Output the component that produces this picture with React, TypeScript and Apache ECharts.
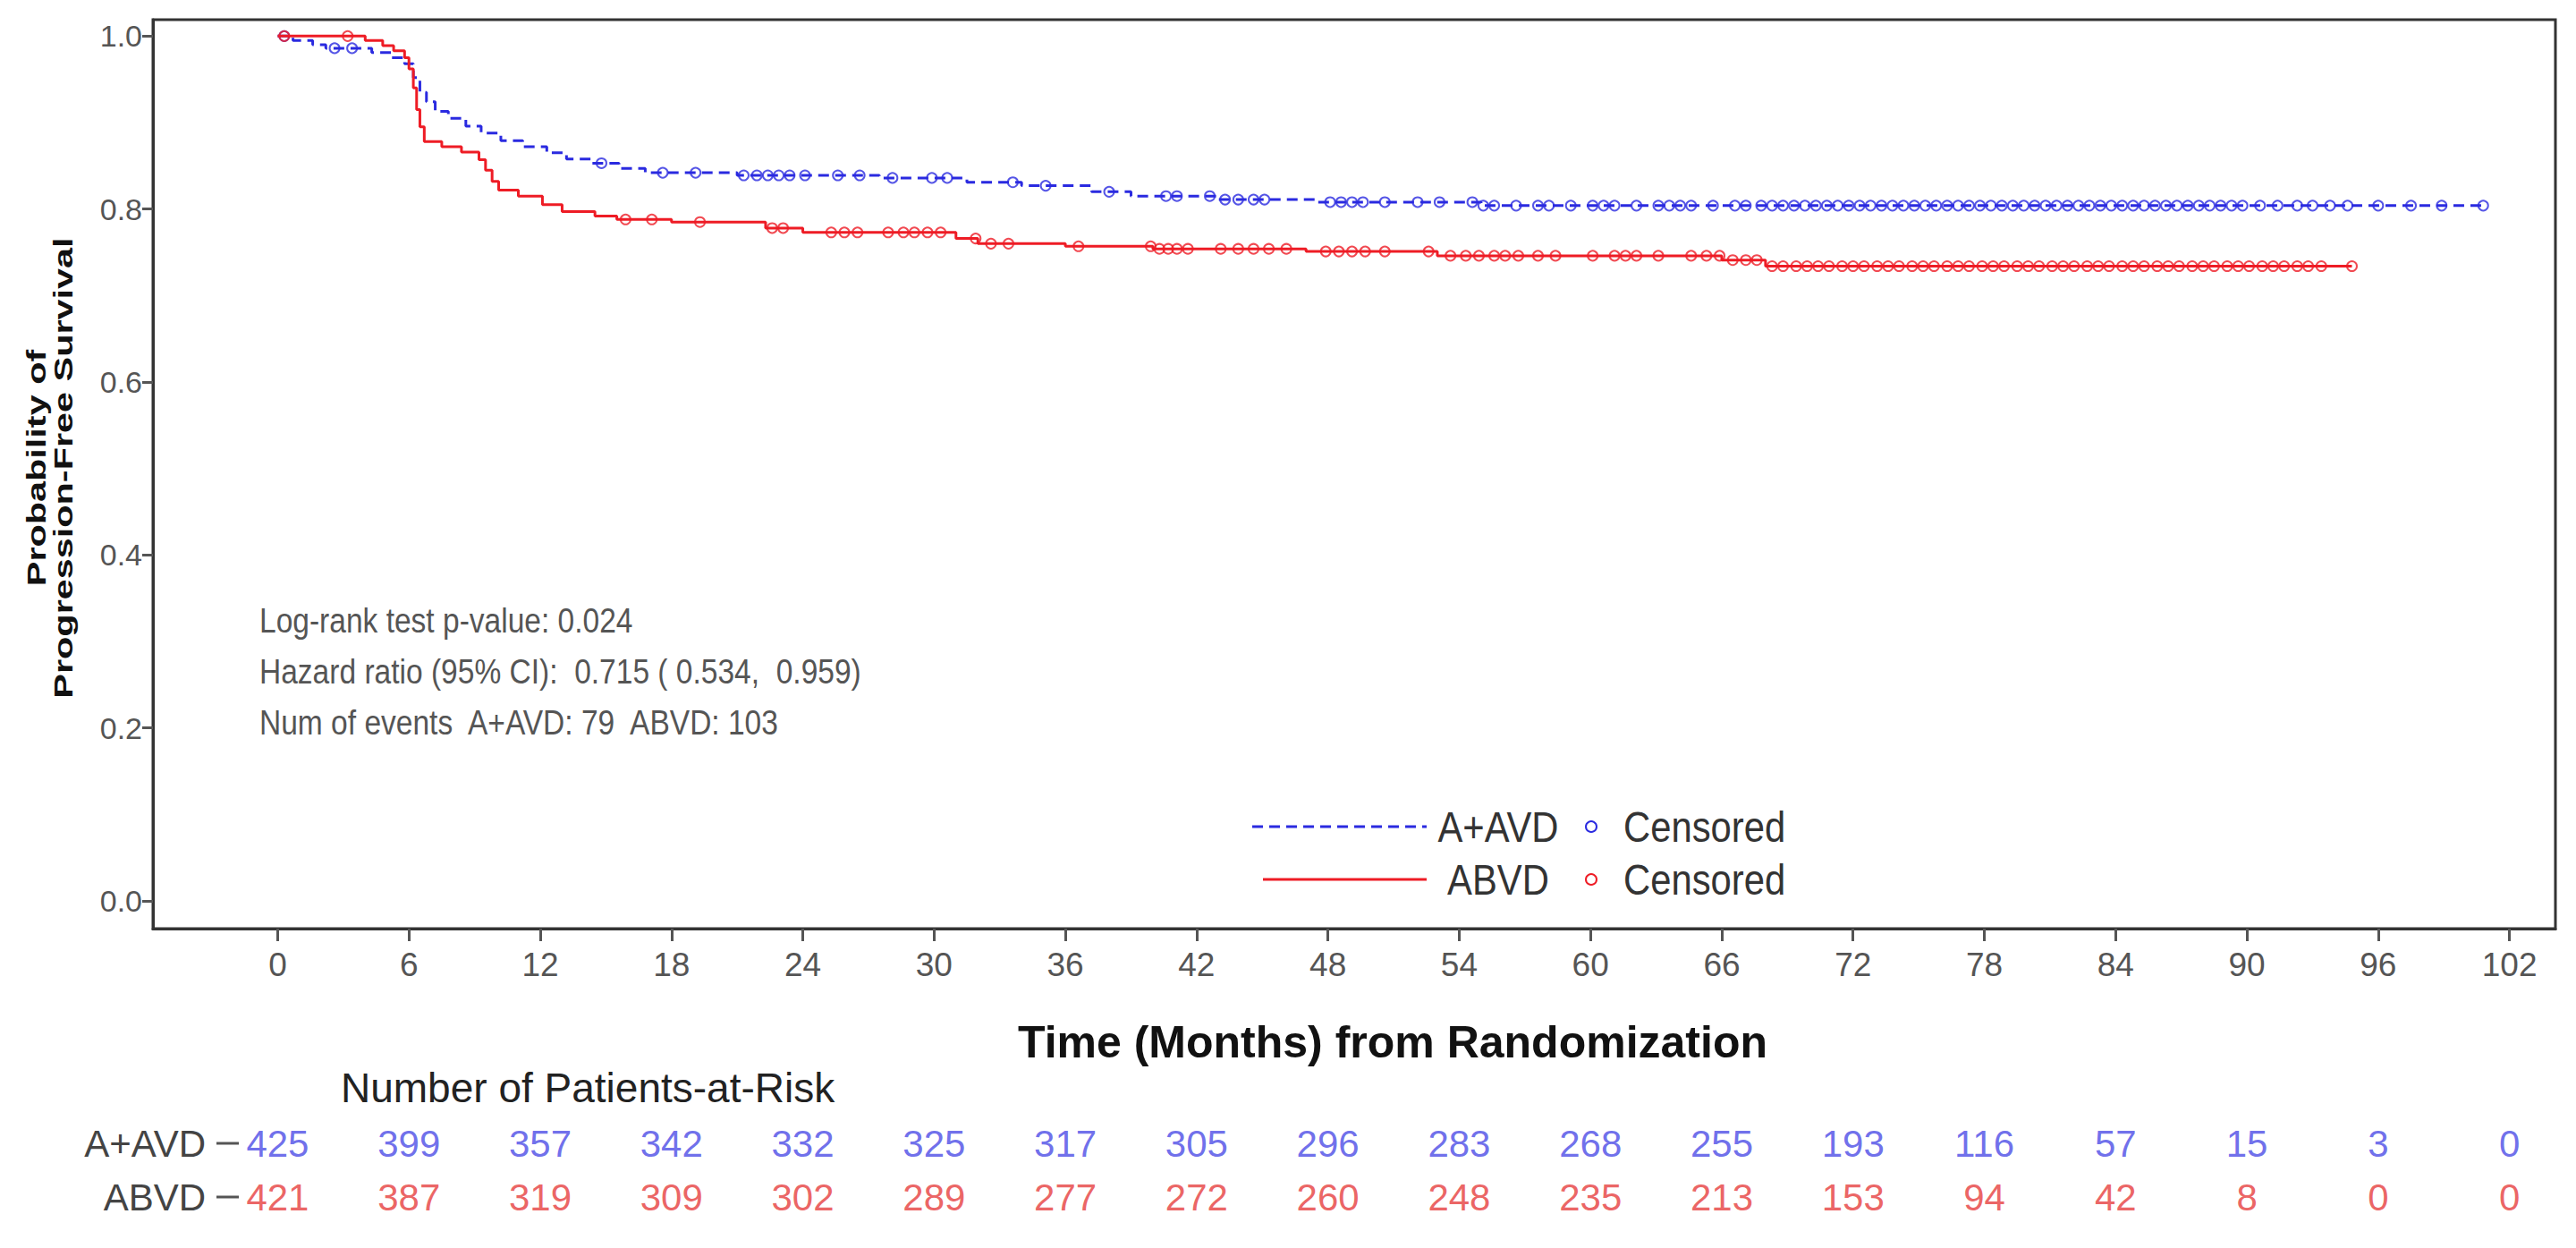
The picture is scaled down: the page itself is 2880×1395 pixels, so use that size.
import React, { useEffect, useRef } from "react";
import * as echarts from "echarts";

// ---------- data ----------
const xTicks = [0, 6, 12, 18, 24, 30, 36, 42, 48, 54, 60, 66, 72, 78, 84, 90, 96, 102];
const yTicks = [0, 0.2, 0.4, 0.6, 0.8, 1.0];

// Kaplan-Meier step points [month, survival]
const stepsAAVD: [number, number][] = [
  [0, 1.0], [0.7, 0.995], [1.6, 0.99], [2.2, 0.986], [4.3, 0.981], [5.2, 0.975], [5.8, 0.968],
  [6.2, 0.952], [6.5, 0.935], [6.8, 0.924], [7.2, 0.913], [7.8, 0.905], [8.6, 0.896], [9.3, 0.888],
  [10.2, 0.879], [11.2, 0.872], [12.3, 0.865], [13.2, 0.858], [14.3, 0.853], [15.6, 0.847],
  [16.8, 0.842], [21.0, 0.839], [27.5, 0.836], [31.5, 0.831], [34.0, 0.827], [37.2, 0.82],
  [39.0, 0.815], [43.0, 0.811], [47.5, 0.808], [55.0, 0.804], [100.8, 0.804],
];
const stepsABVD: [number, number][] = [
  [0, 1.0], [4.0, 0.995], [4.8, 0.989], [5.3, 0.983], [5.8, 0.975], [6.0, 0.962], [6.2, 0.94],
  [6.35, 0.915], [6.5, 0.895], [6.7, 0.878], [7.5, 0.872], [8.4, 0.866], [9.2, 0.857], [9.5, 0.845],
  [9.8, 0.832], [10.1, 0.822], [11.0, 0.815], [12.1, 0.805], [13.0, 0.797], [14.5, 0.792],
  [15.5, 0.788], [18.0, 0.785], [22.3, 0.778], [24.0, 0.773], [31.0, 0.766], [32.0, 0.76],
  [36.0, 0.757], [40.0, 0.754], [47.0, 0.751], [53.0, 0.746], [66.0, 0.741], [68.0, 0.734],
  [94.8, 0.734],
];

// censoring times (months)
const censorAAVD = [
  0.3, 2.6, 3.4, 14.8, 17.6, 19.1, 21.3, 21.9, 22.4, 22.9, 23.4, 24.1, 25.6, 26.6, 28.1, 29.9, 30.6,
  33.6, 35.1, 38.0, 40.6, 41.1, 42.6, 43.3, 43.9, 44.6, 45.1, 48.1, 48.6, 49.1, 49.6, 50.6, 52.1,
  53.1, 54.6, 55.1, 55.6, 56.6, 57.6, 58.1, 59.1, 60.1, 60.6, 61.1, 62.1, 63.1, 63.6, 64.1, 64.6,
  65.6, 66.6, 67.1, 67.8, 68.3, 68.8, 69.3, 69.8, 70.3, 70.8, 71.3, 71.8, 72.3, 72.8, 73.3, 73.8,
  74.3, 74.8, 75.3, 75.8, 76.3, 76.8, 77.3, 77.8, 78.3, 78.8, 79.3, 79.8, 80.3, 80.8, 81.3, 81.8,
  82.3, 82.8, 83.3, 83.8, 84.3, 84.8, 85.3, 85.8, 86.3, 86.8, 87.3, 87.8, 88.3, 88.8, 89.3, 89.8,
  90.6, 91.4, 92.3, 93.0, 93.8, 94.6, 96.0, 97.5, 98.9, 100.8,
];
const censorABVD = [
  0.3, 3.2, 15.9, 17.1, 19.3, 22.6, 23.1, 25.3, 25.9, 26.5, 27.9, 28.6, 29.1, 29.7, 30.3, 31.9,
  32.6, 33.4, 36.6, 39.9, 40.3, 40.7, 41.1, 41.6, 43.1, 43.9, 44.6, 45.3, 46.1, 47.9, 48.5, 49.1,
  49.7, 50.6, 52.6, 53.6, 54.3, 54.9, 55.6, 56.1, 56.7, 57.6, 58.4, 60.1, 61.1, 61.6, 62.1, 63.1,
  64.6, 65.3, 65.9, 66.5, 67.1, 67.6, 68.3, 68.8, 69.4, 69.9, 70.4, 70.9, 71.5, 72.0, 72.5, 73.1,
  73.6, 74.1, 74.7, 75.2, 75.7, 76.3, 76.8, 77.3, 77.9, 78.4, 78.9, 79.5, 80.0, 80.5, 81.1, 81.6,
  82.1, 82.7, 83.2, 83.7, 84.3, 84.8, 85.3, 85.9, 86.4, 86.9, 87.5, 88.0, 88.5, 89.1, 89.6, 90.1,
  90.7, 91.2, 91.7, 92.3, 92.8, 93.4, 94.8,
];

const riskGroups = ["A+AVD", "ABVD"];
const riskAAVD = [425, 399, 357, 342, 332, 325, 317, 305, 296, 283, 268, 255, 193, 116, 57, 15, 3, 0];
const riskABVD = [421, 387, 319, 309, 302, 289, 277, 272, 260, 248, 235, 213, 153, 94, 42, 8, 0, 0];

const annotations = [
  "Log-rank test p-value: 0.024",
  "Hazard ratio (95% CI):  0.715 ( 0.534,  0.959)",
  "Num of events  A+AVD: 79  ABVD: 103",
];

// ---------- helpers ----------
const survAt = (steps: [number, number][], t: number) => {
  let s = steps[0][1];
  for (const [tt, v] of steps) if (tt <= t) s = v;
  return s;
};

const BLUE = "#2a2ae0";
const RED = "#ee1c25";
const SANS = "'Liberation Sans', Arial, sans-serif";

export default function App() {
  const ref = useRef<HTMLDivElement>(null);
  useEffect(() => {
    document.body.style.margin = "0";
    const chart = echarts.init(ref.current!, undefined, { renderer: "svg" });

    const gridLeft = 171;
    const gridRight = 2880 - 2857;
    const xMin = -5.7;
    const xMax = 104.1;
    const pxPerMonth = (2857 - 171) / (xMax - xMin);
    const riskLeft = 267;
    const riskMin = xMin + (riskLeft - gridLeft) / pxPerMonth;

    const legendRow = (y: number, color: string, dash: number[] | null, label: string) => [
      {
        type: "line",
        shape: { x1: dash ? 1400 : 1412, y1: y, x2: 1595, y2: y },
        style: { stroke: color, lineWidth: 3, lineDash: dash || undefined },
      },
      {
        type: "text",
        x: 1675,
        y,
        scaleX: 0.95,
        scaleY: 1.08,
        style: {
          text: label, fontSize: 44, fontFamily: SANS, fill: "#333",
          align: "center", textAlign: "center", verticalAlign: "middle", textVerticalAlign: "middle",
        },
      },
      {
        type: "circle",
        shape: { cx: 1779, cy: y, r: 6 },
        style: { fill: "none", stroke: color, lineWidth: 2 },
      },
      {
        type: "text",
        x: 1815,
        y,
        scaleX: 0.95,
        scaleY: 1.08,
        style: {
          text: "Censored", fontSize: 44, fontFamily: SANS, fill: "#333",
          align: "left", textAlign: "left", verticalAlign: "middle", textVerticalAlign: "middle",
        },
      },
    ];

    const option: any = {
      animation: false,
      backgroundColor: "#ffffff",
      grid: [
        {
          left: gridLeft, right: gridRight, top: 22, height: 1016,
          show: true, borderColor: "#333", borderWidth: 3, backgroundColor: "transparent",
        },
        { left: riskLeft, right: gridRight, top: 1248, height: 120 },
      ],
      xAxis: [
        {
          type: "value", gridIndex: 0, min: xMin, max: xMax,
          splitLine: { show: false },
          axisLine: { show: true, onZero: false, lineStyle: { color: "#333", width: 3 } },
          axisTick: { show: true, customValues: xTicks, length: 14, lineStyle: { color: "#555", width: 3 } },
          axisLabel: {
            customValues: xTicks, margin: 22, fontSize: 37, fontFamily: SANS, color: "#555",
          },
        },
        {
          type: "value", gridIndex: 1, min: riskMin, max: xMax, show: false,
        },
      ],
      yAxis: [
        {
          type: "value", gridIndex: 0, min: -0.032, max: 1.019,
          splitLine: { show: false },
          axisLine: { show: true, onZero: false, lineStyle: { color: "#333", width: 3 } },
          axisTick: { show: true, customValues: yTicks, length: 12, lineStyle: { color: "#555", width: 3 } },
          axisLabel: {
            customValues: yTicks, margin: 12, fontSize: 34, fontFamily: SANS, color: "#555",
            formatter: (v: number) => v.toFixed(1),
          },
        },
        {
          type: "category", gridIndex: 1, data: riskGroups, inverse: true,
          axisLine: { show: false },
          axisTick: { show: false },
          axisLabel: {
            margin: 0, fontSize: 42, fontFamily: SANS, color: "#444",
            formatter: (v: string) => `${v}{g|}{d|}`,
            rich: {
              g: { width: 12, height: 3, verticalAlign: "middle" },
              d: { width: 25, height: 3, backgroundColor: "#555", verticalAlign: "middle" },
            },
          },
          splitLine: { show: false },
        },
      ],
      series: [
        {
          type: "line", xAxisIndex: 0, yAxisIndex: 0, step: "end", symbol: "none",
          data: stepsAAVD, lineStyle: { color: BLUE, width: 3, type: [12, 7] }, z: 2,
        },
        {
          type: "scatter", xAxisIndex: 0, yAxisIndex: 0, symbol: "circle", symbolSize: 11,
          data: censorAAVD.map((t) => [t, survAt(stepsAAVD, t)]),
          itemStyle: { color: "rgba(0,0,0,0)", borderColor: BLUE, borderWidth: 2 }, z: 3,
        },
        {
          type: "line", xAxisIndex: 0, yAxisIndex: 0, step: "end", symbol: "none",
          data: stepsABVD, lineStyle: { color: RED, width: 3 }, z: 4,
        },
        {
          type: "scatter", xAxisIndex: 0, yAxisIndex: 0, symbol: "circle", symbolSize: 11,
          data: censorABVD.map((t) => [t, survAt(stepsABVD, t)]),
          itemStyle: { color: "rgba(0,0,0,0)", borderColor: RED, borderWidth: 2 }, z: 5,
        },
        {
          type: "scatter", xAxisIndex: 1, yAxisIndex: 1, symbol: "rect", symbolSize: 1,
          itemStyle: { color: "rgba(0,0,0,0)" },
          data: xTicks.map((t, i) => [t, riskGroups[0], riskAAVD[i]]),
          label: {
            show: true, position: "inside", formatter: (p: any) => String(p.value[2]),
            fontSize: 42, fontFamily: SANS, color: "#4a4ae6",
          },
        },
        {
          type: "scatter", xAxisIndex: 1, yAxisIndex: 1, symbol: "rect", symbolSize: 1,
          itemStyle: { color: "rgba(0,0,0,0)" },
          data: xTicks.map((t, i) => [t, riskGroups[1], riskABVD[i]]),
          label: {
            show: true, position: "inside", formatter: (p: any) => String(p.value[2]),
            fontSize: 42, fontFamily: SANS, color: "#e63c3c",
          },
        },
      ],
      graphic: [
        {
          type: "text", x: 56, y: 523, rotation: Math.PI / 2, scaleX: 1.38,
          style: {
            text: "Probability of\nProgression-Free Survival", fontSize: 30, fontWeight: "bold",
            fontFamily: SANS, fill: "#111", lineHeight: 30,
            align: "center", textAlign: "center", verticalAlign: "middle", textVerticalAlign: "middle",
          },
        },
        {
          type: "text", x: 1557, y: 1165,
          style: {
            text: "Time (Months) from Randomization", fontSize: 50, fontWeight: "bold",
            fontFamily: SANS, fill: "#111",
            align: "center", textAlign: "center", verticalAlign: "middle", textVerticalAlign: "middle",
          },
        },
        {
          type: "text", x: 381, y: 1216,
          style: {
            text: "Number of Patients-at-Risk", fontSize: 46, fontFamily: SANS, fill: "#222",
            align: "left", textAlign: "left", verticalAlign: "middle", textVerticalAlign: "middle",
          },
        },
        ...annotations.map((s, i) => ({
          type: "text", x: 290, y: 694 + i * 57, scaleX: 0.86,
          style: {
            text: s, fontSize: 39, fontFamily: SANS, fill: "#555",
            align: "left", textAlign: "left", verticalAlign: "middle", textVerticalAlign: "middle",
          },
        })),
        ...legendRow(924, BLUE, [12, 7], "A+AVD"),
        ...legendRow(983, RED, null, "ABVD"),
      ],
    };
    chart.setOption(option);
    return () => chart.dispose();
  }, []);
  return <div ref={ref} style={{ width: 2880, height: 1395 }} />;
}
